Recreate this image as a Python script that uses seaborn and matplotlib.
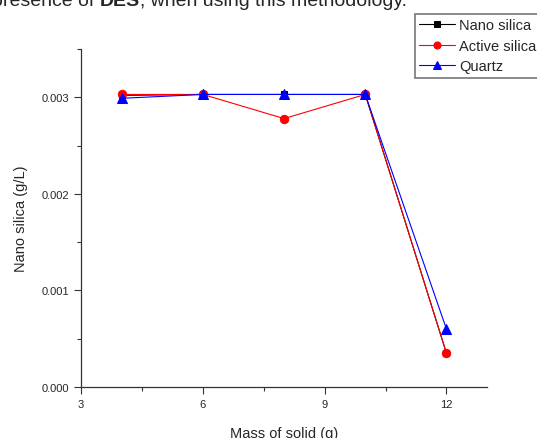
import numpy as np
import seaborn as sns
import matplotlib.pyplot as plt
from matplotlib.ticker import MultipleLocator

mass = [4, 6, 8, 10, 12]
nano_silica = [0.00302, 0.00303, 0.00303, 0.00303, 0.00035]
active_silica = [0.00303, 0.00303, 0.00278, 0.00303, 0.00035]
quartz = [0.00299, 0.00303, 0.00303, 0.00303, 0.00060]

sns.set_style('ticks')
plt.rcParams['font.family'] = ['Liberation Sans', 'DejaVu Sans']

fig = plt.figure(figsize=(5.37, 4.39), dpi=100)
ax = fig.add_axes([0.151, 0.116, 0.756, 0.770])

sns.lineplot(x=mass, y=nano_silica, ax=ax, color='black', marker='s', markersize=5,
             markeredgecolor='black', linewidth=0.8, label='Nano silica')
sns.lineplot(x=mass, y=active_silica, ax=ax, color='red', marker='o', markersize=6,
             markeredgecolor='red', linewidth=0.8, label='Active silica')
sns.lineplot(x=mass, y=quartz, ax=ax, color='blue', marker='^', markersize=6.5,
             markeredgecolor='blue', linewidth=0.8, label='Quartz')

ax.set_xlim(3, 13)
ax.set_ylim(0, 0.0035)
ax.xaxis.set_major_locator(MultipleLocator(3))
ax.xaxis.set_minor_locator(MultipleLocator(1.5))
ax.yaxis.set_major_locator(MultipleLocator(0.001))
ax.yaxis.set_minor_locator(MultipleLocator(0.0005))
ax.yaxis.set_major_formatter(plt.FormatStrFormatter('%.3f'))
ax.tick_params(which='major', length=5, width=0.8, labelsize=8, color='#333333')
ax.tick_params(which='minor', length=3, width=0.8, color='#333333')
sns.despine(ax=ax)
for s in ['left', 'bottom']:
    ax.spines[s].set_color('#333333')
    ax.spines[s].set_linewidth(0.9)

ax.set_xlabel('Mass of solid (g)', fontsize=10.5, labelpad=12)
ax.set_ylabel('Nano silica (g/L)', fontsize=10.5, labelpad=10)

handles, labels = ax.get_legend_handles_labels()
ax.get_legend().remove()
leg = fig.legend(handles, labels, loc='upper left', bbox_to_anchor=(0.772, 0.966),
                 fontsize=10.5, frameon=True, fancybox=False, handlelength=2.5,
                 handletextpad=0.25, borderpad=0.3, labelspacing=0.45,
                 borderaxespad=0, markerscale=0.85)
leg.get_frame().set_edgecolor('#555555')
leg.get_frame().set_linewidth(1.2)

# caption fragment cut off at the top of the image
des = fig.text(100 / 537, 0.978, 'DES', fontsize=14, va='bottom', ha='left',
               fontweight='bold')
ax.annotate('presence of ', xy=(0, 0), xycoords=des, fontsize=14,
            va='bottom', ha='right', annotation_clip=False)
ax.annotate(', when using this methodology.', xy=(1, 0), xycoords=des, fontsize=14,
            va='bottom', ha='left', annotation_clip=False)

fig.savefig('out.png', dpi=100)
